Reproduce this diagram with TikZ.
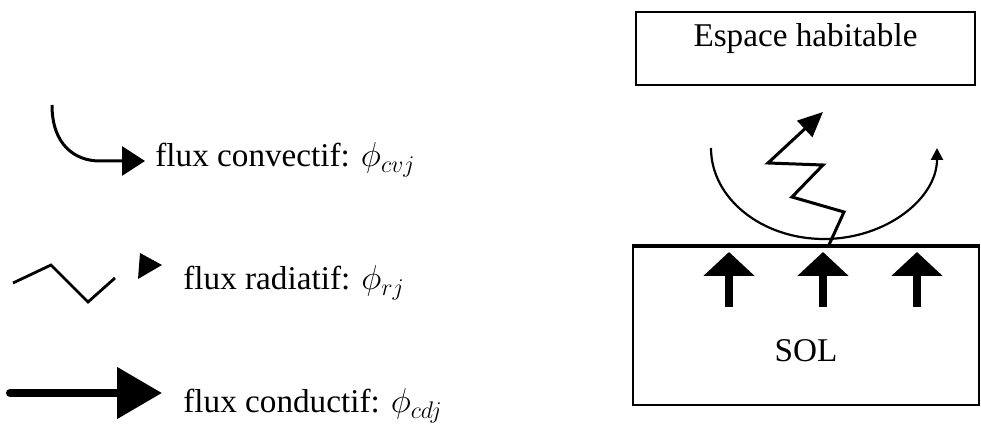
\documentclass[tikz,border=0pt]{standalone}
\usepackage{fontspec}
\setmainfont{Liberation Serif}
\usetikzlibrary{arrows.meta,positioning,calc}

\begin{document}
\begin{tikzpicture}[
  x=0.5pt, y=-0.5pt,
  font=\fontsize{16.6}{19}\selectfont,
  boite/.style={draw=black, line width=1pt, inner sep=0pt},
  lbl/.style={anchor=base west, inner sep=0pt},
  conv/.style={line width=1.5pt, -{Triangle[length=11.5pt,width=14.5pt]}},
  ray/.style={line width=1.4pt, line join=miter},
  cond/.style={line width=4pt, line cap=round, -{Triangle[length=22.5pt,width=25pt]}},
  monte/.style={line width=4pt, -{Triangle[length=12pt,width=25pt]}}
]
\useasboundingbox (0,0) rectangle (981,427);
% legende
\node[lbl] (lconv) at (155,167) {flux convectif: $\phi_{cvj}$};
\node[lbl] (lray) at (183,290) {flux radiatif: $\phi_{rj}$};
\node[lbl] (lcond) at (183,413) {flux conductif: $\phi_{cdj}$};
\draw[conv] (52,105) .. controls (52,145) and (75,161) .. (100,161) -- (145,161);
\draw[ray] (13,283) -- (51,265) -- (88,302) -- (115,278);
\fill (140,253) -- (162,265) -- (138,279) -- cycle;
\draw[cond] (10,393) -- (162,393);
% espace habitable et sol
\node[boite, minimum width=169.5pt, minimum height=36.5pt, text height=11pt, text depth=12.5pt] (espace) at (805.5,48.5) {Espace habitable};
\node[boite, minimum width=173pt, minimum height=79pt, text height=36pt, text depth=0pt] (sol) at (806,326) {SOL};
\draw[line width=1.6pt] (sol.north west) -- (sol.north east);
\draw[monte] (729,307) -- (729,252);
\draw[monte] (823,307) -- (823,252);
\draw[monte] (917,307) -- (917,252);
\draw[line width=1.1pt, -{Triangle[length=6pt,width=6pt]}] (711,148) arc[start angle=180, end angle=0, x radius=113, y radius=91];
\draw[ray, line width=1.5pt, -{Triangle[length=12.5pt,width=11pt]}] (828,247) -- (844,212) -- (792,197) -- (823,165) -- (768,163) -- (823,112);
\end{tikzpicture}
\end{document}
